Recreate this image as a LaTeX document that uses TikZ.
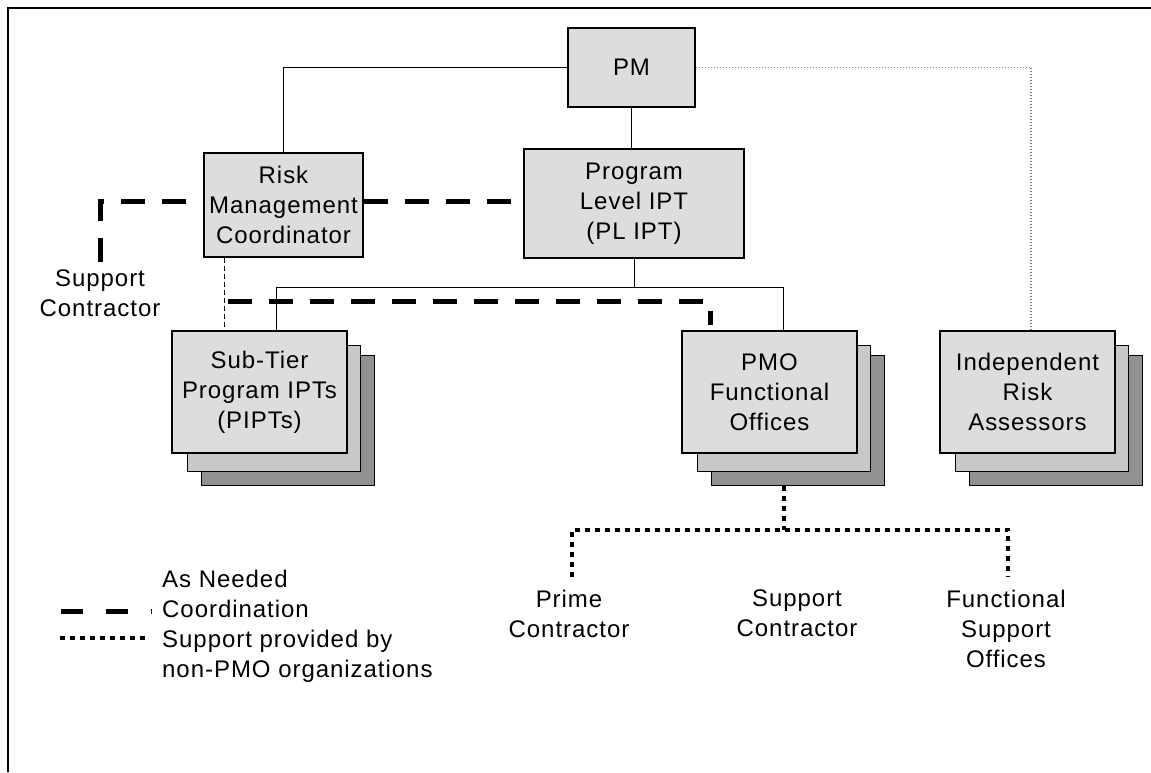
\documentclass[tikz,border=0pt]{standalone}
\usepackage{fontspec}
\setmainfont{Liberation Sans}[LetterSpace=4]
\usetikzlibrary{backgrounds}
\definecolor{frontgray}{RGB}{221,221,221}
\definecolor{midgray}{RGB}{200,200,200}
\definecolor{backgray}{RGB}{145,145,145}
\tikzset{
  box/.style={draw=black, line width=1.2pt, fill=frontgray, align=center, inner sep=0pt,
    font=\fontsize{24}{30}\selectfont},
  lbl/.style={align=center, inner sep=0pt, font=\fontsize{24}{30}\selectfont},
  thin line/.style={draw=black, line width=1pt},
  coord dash/.style={draw=black, line width=5pt, dash pattern=on 24pt off 17pt},
  thin dash/.style={draw=black, line width=1pt, dash pattern=on 5pt off 3pt},
  gray dots/.style={draw=gray, line width=1.2pt, dash pattern=on 1.2pt off 1.8pt},
  support dots/.style={draw=black, line width=4pt, dash pattern=on 5pt off 5pt},
  backcard/.style={fill=backgray, draw=black, line width=1.2pt},
  midcard/.style={fill=midgray, draw=black, line width=1.2pt}
}
\newcommand\cardstack[1]{%
  \path[backcard] ([xshift=30pt,yshift=-25pt]#1.north west) rectangle ([xshift=27pt,yshift=-32pt]#1.south east);
  \path[midcard] ([xshift=16pt,yshift=-15pt]#1.north west) rectangle ([xshift=13pt,yshift=-18pt]#1.south east);}
\begin{document}
\begin{tikzpicture}[x=1pt,y=-1pt]
\useasboundingbox (0,0) rectangle (1151,772);
\draw[line width=2pt] (8,772) -- (8,8) -- (1151,8);

% main boxes
\node[box, minimum width=127pt, minimum height=79pt] (pm) at (631.5,67.5) {PM};
\node[box, minimum width=159pt, minimum height=104pt] (risk) at (283.5,205) {Risk\\Management\\Coordinator};
\node[box, minimum width=220pt, minimum height=109pt] (plipt) at (634,203.5) {Program\\Level IPT\\(PL IPT)};
\node[box, minimum width=175pt, minimum height=122pt] (sub) at (259.5,392) {Sub-Tier\\Program IPTs\\(PIPTs)};
\node[box, minimum width=175pt, minimum height=122pt] (pmo) at (769.5,392) {PMO\\Functional\\Offices};
\node[box, minimum width=175pt, minimum height=122pt] (indep) at (1027.5,392) {Independent\\Risk\\Assessors};

\begin{pgfonlayer}{background}
  \cardstack{sub}
  \cardstack{pmo}
  \cardstack{indep}
\end{pgfonlayer}

% labels
\node[lbl, anchor=north] (sc) at (100,270) {Support\\Contractor};
\node[lbl, anchor=north] (prime) at (569,590) {Prime\\Contractor};
\node[lbl, anchor=north] (supp) at (797,590) {Support\\Contractor};
\node[lbl, anchor=north] (func) at (1006,590) {Functional\\Support\\Offices};

% solid organisation lines
\draw[thin line] (pm.west) -| (risk.north);
\draw[thin line] (pm.south) -- (pm.south |- plipt.north);
\coordinate (bus) at ([yshift=-29pt]plipt.south);
\draw[thin line] (plipt.south) -- (bus);
\draw[thin line] ([xshift=16.5pt]sub.north) -- ([xshift=16.5pt]sub.north |- bus)
  -- ([xshift=13.5pt]pmo.north |- bus) -- ([xshift=13.5pt]pmo.north);

% gray dotted to independent assessors
\draw[gray dots] (pm.east) -| ([xshift=3.5pt]indep.north);

% as-needed coordination
\draw[coord dash] ([yshift=8pt]sc.north) |- ([yshift=4pt]risk.west);
\draw[coord dash] ([yshift=4pt]risk.east) -- ([yshift=4pt]risk.east -| plipt.west);
\draw[thin dash] ([xshift=-59.5pt]risk.south) -- ([xshift=-59.5pt]risk.south |- sub.north);
\coordinate (cd) at (228,301);
\draw[coord dash] (cd) -| ([xshift=-59.5pt,yshift=5pt]pmo.north);

% support by non-PMO organisations
\coordinate (pmoB) at ([xshift=14.5pt,yshift=-32pt]pmo.south);
\coordinate (hub) at ([yshift=-44pt]pmoB);
\draw[support dots] (pmoB) -- (hub);
\draw[support dots] ([xshift=3pt,yshift=13pt]prime.north) |- (hub) -| ([xshift=2pt,yshift=13pt]func.north);

% legend
\coordinate (l1a) at (61,611);
\coordinate (l1b) at (152,611);
\coordinate (l2a) at (60,638);
\coordinate (l2b) at (145,638);
\draw[draw=black, line width=5pt, dash pattern=on 22pt off 23pt] (l1a) -- (l1b);
\draw[support dots, line width=3.5pt] (l2a) -- (l2b);
\node[lbl, align=left, anchor=west] (legend) at (162,626)
  {As Needed\\Coordination\\Support provided by\\non-PMO organizations};
\end{tikzpicture}
\end{document}
